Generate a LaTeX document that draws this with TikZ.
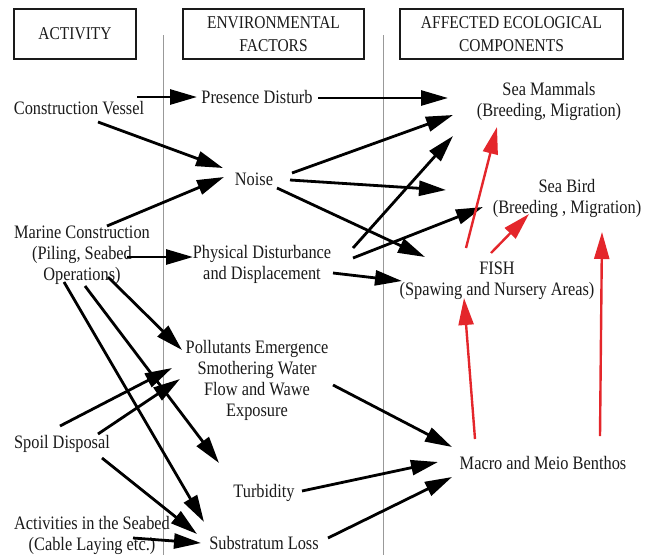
\documentclass[tikz,border=0pt]{standalone}
\usepackage{fontspec}
\setmainfont{Liberation Serif}[FakeStretch=0.86]
\usepackage{xcolor}
\usetikzlibrary{arrows.meta,calc}

\definecolor{arred}{HTML}{E4262B}
\definecolor{ink}{HTML}{1A1A1A}

\begin{document}
\begin{tikzpicture}[x=1pt,y=-1pt,
  lbl/.style={align=center, inner sep=0pt, text=ink, font=\fontsize{19}{21}\selectfont},
  headbox/.style={draw=ink, line width=1.1pt, minimum height=50pt, inner sep=0pt,
    align=center, text=ink, font=\fontsize{18}{23}\selectfont},
  arr/.style={draw=black, line width=2.8pt, -{Triangle[length=27pt,width=15pt]}},
  redarr/.style={arr, draw=arred, line width=2.4pt}]
  \useasboundingbox (0,0) rectangle (653,555);

  % Column dividers
  \draw[gray!80, line width=0.8pt] (163,35) -- (163,555);
  \draw[gray!80, line width=0.8pt] (383,35) -- (383,555);

  % Column headers
  \node[headbox, minimum width=122pt] (hact) at (75,34) {ACTIVITY};
  \node[headbox, minimum width=181pt] (henv) at (273.5,34) {ENVIRONMENTAL\\FACTORS};
  \node[headbox, minimum width=223pt] (heco) at (511.5,34) {AFFECTED ECOLOGICAL\\COMPONENTS};

  % Activities
  \node[lbl] (vessel) at (79,108) {Construction Vessel};
  \node[lbl] (marine) at (82,255) {Marine Construction\\(Piling, Seabed\\Operations)};
  \node[lbl] (spoil) at (62,444) {Spoil Disposal};
  \node[lbl] (seabed) at (92,535) {Activities in the Seabed\\(Cable Laying etc.)};

  % Environmental factors
  \node[lbl] (presence) at (257,97) {Presence Disturb};
  \node[lbl] (noise) at (254,179) {Noise};
  \node[lbl] (physical) at (262,264) {Physical Disturbance\\and Displacement};
  \node[lbl] (pollut) at (257,380) {Pollutants Emergence\\Smothering Water\\Flow and Wawe\\Exposure};
  \node[lbl] (turb) at (264,493) {Turbidity};
  \node[lbl] (subst) at (264,543) {Substratum Loss};

  % Ecological components
  \node[lbl] (mammals) at (549,101) {Sea Mammals\\(Breeding, Migration)};
  \node[lbl] (bird) at (567,198) {Sea Bird\\(Breeding , Migration)};
  \node[lbl] (fish) at (497,281) {FISH\\(Spawing and Nursery Areas)};
  \node[lbl] (benthos) at (543,463) {Macro and Meio Benthos};

  % Activity -> factor
  \draw[arr] ($(vessel)+(58,-11)$) -- ($(presence)+(-60,0)$);
  \draw[arr] ($(vessel)+(19,14)$) -- ($(noise)+(-31,-11)$);
  \draw[arr] ($(marine)+(25,-29)$) -- ($(noise)+(-30,-2)$);
  \draw[arr] ($(marine)+(45,2)$) -- ($(physical)+(-69,-7)$);
  \draw[arr] ($(marine)+(26,22)$) -- ($(pollut)+(-75,-30)$);
  \draw[arr] ($(marine)+(3,31)$) -- ($(turb)+(-45,-30)$);
  \draw[arr] ($(marine)+(-18,27)$) -- ($(subst)+(-60,-21)$);
  \draw[arr] ($(spoil)+(-2,-18)$) -- ($(pollut)+(-85,-12)$);
  \draw[arr] ($(spoil)+(36,-10)$) -- ($(pollut)+(-77,-1)$);
  \draw[arr] ($(spoil)+(40,14)$) -- ($(subst)+(-67,-9)$);
  \draw[arr] ($(seabed)+(41,3)$) -- ($(subst)+(-63,0)$);

  % Factor -> component
  \draw[arr] ($(presence)+(61,1)$) -- ($(mammals)+(-101,-3)$);
  \draw[arr] ($(noise)+(38,-6)$) -- ($(mammals)+(-96,14)$);
  \draw[arr] ($(noise)+(36,1)$) -- ($(bird)+(-121,-8)$);
  \draw[arr] ($(noise)+(23,9)$) -- ($(fish)+(-72,-24)$);
  \draw[arr] ($(physical)+(91,-16)$) -- ($(mammals)+(-96,35)$);
  \draw[arr] ($(physical)+(91,-6)$) -- ($(bird)+(-84,9)$);
  \draw[arr] ($(physical)+(71,9)$) -- ($(fish)+(-95,0)$);
  \draw[arr] ($(pollut)+(76,5)$) -- ($(benthos)+(-91,-16)$);
  \draw[arr] ($(turb)+(38,-2)$) -- ($(benthos)+(-105,-1)$);
  \draw[arr] ($(subst)+(64,-5)$) -- ($(benthos)+(-91,14)$);

  % Component -> component (red)
  \draw[redarr] ($(fish)+(-31,-33)$) -- ($(mammals)+(-52,26)$);
  \draw[redarr] ($(fish)+(-6,-28)$) -- ($(bird)+(-38,16)$);
  \draw[redarr] ($(benthos)+(-68,-24)$) -- ($(fish)+(-33,17)$);
  \draw[redarr] ($(benthos)+(57,-27)$) -- ($(bird)+(35,34)$);
\end{tikzpicture}
\end{document}
